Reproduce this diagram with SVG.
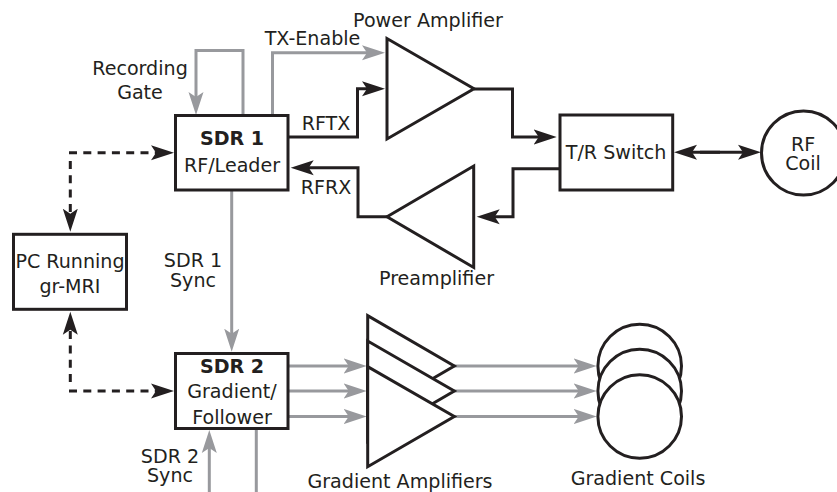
<svg xmlns="http://www.w3.org/2000/svg" width="837" height="492" viewBox="0 0 837 492">
<style>
text{font-family:"DejaVu Sans",sans-serif;font-size:19.1px;fill:#231f20;text-anchor:middle}
.b{font-weight:bold}
.k{fill:#fff;stroke:#231f20;stroke-width:3;stroke-linejoin:miter}
.l{fill:none;stroke-width:3;stroke-linejoin:miter}
.dark{stroke:#231f20}
.gray{stroke:#98999d}
.dash{stroke-dasharray:8 6.3}
</style>
<defs>
<marker id="ak" markerUnits="userSpaceOnUse" markerWidth="24" markerHeight="16" refX="10" refY="8" orient="auto"><path d="M23 8L0 0.5L5 8L0 15.5Z" fill="#231f20"/></marker>
<marker id="ag" markerUnits="userSpaceOnUse" markerWidth="24" markerHeight="16" refX="10" refY="8" orient="auto"><path d="M23 8L0 0.5L5 8L0 15.5Z" fill="#98999d"/></marker>
</defs>
<rect width="837" height="492" fill="#fff"/>
<g id="connectors">
<path class="l gray" d="M243 115V50.5H196V102" marker-end="url(#ag)"/>
<path class="l gray" d="M272.5 115V52.7H372" marker-end="url(#ag)"/>
<path class="l gray" d="M231.7 190V338.7" marker-end="url(#ag)"/>
<path class="l gray" d="M288 366H353.7" marker-end="url(#ag)"/>
<path class="l gray" d="M288 391H353.7" marker-end="url(#ag)"/>
<path class="l gray" d="M288 416.5H353.7" marker-end="url(#ag)"/>
<path class="l gray" d="M454 366H583.7" marker-end="url(#ag)"/>
<path class="l gray" d="M454 391H583.7" marker-end="url(#ag)"/>
<path class="l gray" d="M454 416.5H583.7" marker-end="url(#ag)"/>
<path class="l gray" d="M209.3 492V443" marker-end="url(#ag)"/>
<path class="l gray" d="M256.3 428V492"/>
<path class="l dark" d="M288 137H357.5V88.7H372" marker-end="url(#ak)"/>
<path class="l dark" d="M387 216.7H358V167.7H303.7" marker-end="url(#ak)"/>
<path class="l dark" d="M474 89H512.5V137H543.7" marker-end="url(#ak)"/>
<path class="l dark" d="M560 168.7H513V216.7H489.7" marker-end="url(#ak)"/>
<path class="l dark" d="M700 152.3H748" marker-end="url(#ak)"/>
<path class="l dark" d="M720 152.3H687" marker-end="url(#ak)"/>
<path class="l dark dash" d="M69 152.7H161" marker-end="url(#ak)"/>
<path class="l dark dash" d="M70.3 161V218.7" marker-end="url(#ak)"/>
<path class="l dark dash" d="M69 391H161" marker-end="url(#ak)"/>
<path class="l dark dash" d="M70.3 382V324.7" marker-end="url(#ak)"/>
</g>
<g id="sdr1"><rect class="k" x="175.5" y="115.5" width="112.5" height="74.5"/><text class="b" x="232" y="145">SDR 1</text><text x="232" y="172">RF/Leader</text></g>
<g id="sdr2"><rect class="k" x="175.5" y="353.5" width="112.5" height="75"/><text class="b" x="232" y="372.7">SDR 2</text><text x="232" y="398">Gradient/</text><text x="232" y="424">Follower</text></g>
<g id="pc"><rect class="k" x="13.5" y="234.3" width="113" height="75"/><text x="70" y="267.7">PC Running</text><text x="70" y="293">gr-MRI</text></g>
<g id="tr-switch"><rect class="k" x="560" y="115" width="112.7" height="75"/><text x="616" y="159">T/R Switch</text></g>
<g id="rf-coil"><circle class="k" cx="803.5" cy="153" r="42"/><text x="803" y="151">RF</text><text x="803" y="170">Coil</text></g>
<g id="power-amplifier"><path class="k" d="M387 38.5V139L474 88.7Z"/><text x="428" y="27">Power Amplifier</text></g>
<g id="preamplifier"><path class="k" d="M387 216.7L473.7 166V267.5Z"/><text x="436.5" y="285">Preamplifier</text></g>
<g id="gradient-amplifiers"><path class="k" d="M367.7 315.7V416.5L454.3 366Z"/><path class="k" d="M367.7 341V441.5L454.3 391Z"/><path class="k" d="M367.7 366.7V466.7L454.3 416.5Z"/><text x="400" y="488">Gradient Amplifiers</text></g>
<g id="gradient-coils"><circle class="k" cx="639.7" cy="366" r="41.8"/><circle class="k" cx="639.7" cy="391" r="41.8"/><circle class="k" cx="639.7" cy="416.5" r="41.8"/><text x="638" y="485">Gradient Coils</text></g>
<g id="labels">
<text x="140" y="75">Recording</text><text x="140" y="99">Gate</text>
<text x="312.5" y="45">TX-Enable</text>
<text x="326" y="130">RFTX</text>
<text x="326" y="194">RFRX</text>
<text x="193" y="266.7">SDR 1</text><text x="193" y="286.7">Sync</text>
<text x="170" y="462.7">SDR 2</text><text x="170" y="482">Sync</text>
</g>
</svg>
